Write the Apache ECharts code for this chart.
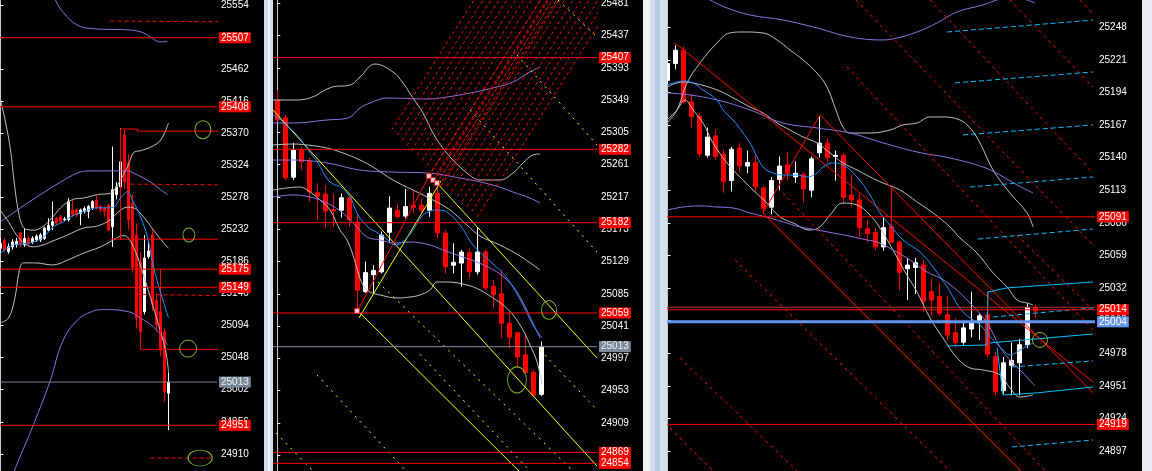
<!DOCTYPE html>
<html><head><meta charset="utf-8">
<script src="https://cdn.jsdelivr.net/npm/echarts@6.0.0/dist/echarts.min.js"></script>
<style>html,body{margin:0;padding:0;background:#000;overflow:hidden}#c{width:1152px;height:471px}</style>
</head><body><div id="c"></div>
<script>
// ================= PANEL 1 =================
const P1_TICKS = [25554,25508,25462,25416,25370,25324,25278,25232,25186,25140,25094,25048,25002,24956,24910];
// [open, close, low, high]
const P1_CANDLES = [
[25205,25212,25198,25219],[25216,25203,25200,25220],[25200,25207,25197,25212],[25207,25214,25203,25218],
[25210,25215,25206,25220],[25227,25210,25207,25229],[25210,25219,25207,25234],[25219,25212,25209,25222],
[25214,25219,25211,25222],[25217,25222,25214,25225],[25217,25224,25214,25227],[25219,25234,25217,25236],
[25231,25238,25229,25248],[25238,25243,25231,25272],[25248,25241,25238,25250],[25250,25243,25241,25253],
[25246,25247,25244,25250],[25246,25272,25243,25277],[25260,25253,25250,25274],[25260,25253,25250,25262],
[25255,25260,25238,25262],[25258,25262,25255,25265],[25258,25265,25248,25267],[25263,25272,25260,25274],
[25274,25263,25260,25281],[25265,25260,25257,25267],[25262,25258,25250,25265],[25267,25231,25231,25269],
[25236,25289,25207,25351],[25282,25293,25275,25300],[25293,25329,25290,25377],[25368,25300,25290,25375],
[25327,25246,25231,25340],[25270,25177,25170,25282],[25224,25105,25090,25240],[25185,25085,25075,25200],
[25114,25191,25110,25224],[25193,25201,25190,25215],[25224,25124,25115,25232],[25130,25095,25085,25140],
[25114,25059,25050,25120],[25085,24999,24985,25090],[24997,25013,24944,25027]
];
const P1_LEVELS = [25507,25408,25175,25149,24951];
const P1_LAST = 25013;
const P1_BB_UP = [[0,25418],[1.25,25386],[2.5,25346],[3.5,25296],[4.5,25257],[5.5,25237],[6.5,25232],[8.25,25231],[10,25234],[12.5,25246],[15,25263],[16.75,25271],[18.75,25276],[20.75,25277],[24.25,25282],[27.5,25284],[28.5,25289],[30,25303],[32,25325],[33.25,25342],[35,25345],[37.5,25350],[40,25360],[42,25385]];
const P1_BB_MID = [[0,25259],[2,25243],[4,25224],[6,25212],[8.25,25207],[10.75,25210],[12.5,25214],[16.75,25224],[20.75,25234],[24.25,25237],[27.5,25246],[29.25,25256],[31.75,25264],[33.25,25263],[35.75,25250],[38.25,25231],[40.75,25213],[42,25205]];
const P1_BB_LOW = [[0,25098],[2,25105],[3.5,25131],[4.75,25174],[5.75,25184],[8.75,25184],[13,25181],[16.75,25188],[20.75,25198],[25,25207],[28.25,25217],[30.5,25223],[31.75,25221],[33.75,25200],[35.5,25171],[37.5,25134],[39.5,25095],[41.25,25059],[42,25028]];
const P1_PUR_UP = [[12,25590],[13.75,25561],[15.75,25543],[19.25,25525],[23.25,25520],[32.5,25518],[35.75,25514],[38.25,25505],[40,25501],[41.75,25502]];
const P1_PUR_MID = [[0,25243],[5,25263],[10,25282],[15,25300],[19.25,25313],[21.75,25316],[31.75,25316],[33.25,25313],[37.5,25300],[40,25289],[41.75,25282]];
const P1_PUR_LOW = [[3.25,24880],[3.75,24890],[8.25,24952],[12.5,25016],[15.5,25071],[19.25,25102],[23.25,25115],[25.75,25117],[32,25114],[35,25105],[38.25,25092],[40.75,25076],[41.75,25066]];
const P1_MA = [[0,25198],[1.75,25205],[3.25,25210],[5,25211],[8.25,25214],[10.75,25221],[13.25,25236],[15.75,25243],[17.5,25250],[20,25256],[21.75,25260],[24.25,25263],[26.75,25263],[28.25,25264],[30,25277],[31.75,25286],[33,25274],[35,25250],[36.75,25221],[38.25,25178],[40,25142],[42,25105]];
const P1_RED_SOLID = [
  [[30,25217],[30,25376],[34.25,25376],[34.25,25373],[54.5,25373]],
  [[27.5,25218],[54.5,25218]],
  [[35,25175],[35,25060],[54.5,25060]],
  [[40,25175],[40,25060]]
];
const P1_RED_DASH = [
  [[27.5,25531],[54.5,25530]],
  [[32.5,25297],[54.5,25296]],
  [[33.75,25139],[54.5,25137]],
  [[37.5,24904],[53,24904]]
];
const P1_MARKS = [[50.6,25375],[47.1,25224],[46.9,25061],[49.9,24904]];

// ================= PANEL 2 =================
const P2_TICKS = [25481,25437,25393,25349,25305,25261,25217,25173,25129,25085,25041,24997,24953,24909,24865];
const P2_CANDLES = [
[25349,25322,25320,25363],[25325,25243,25240,25329],[25244,25281,25240,25291],[25281,25265,25254,25285],
[25266,25224,25211,25270],[25223,25218,25186,25236],[25221,25198,25175,25233],[25200,25198,25176,25222],
[25199,25216,25189,25222],[25216,25186,25176,25218],[25183,25090,25063,25195],[25088,25114,25086,25129],
[25111,25117,25086,25124],[25115,25165,25113,25170],[25169,25202,25154,25218],[25199,25190,25188,25208],
[25191,25204,25188,25228],[25206,25203,25195,25227],[25206,25199,25195,25215],[25199,25222,25190,25231],
[25222,25168,25160,25238],[25168,25122,25113,25172],[25124,25128,25113,25154],[25127,25142,25095,25145],
[25141,25115,25107,25147],[25115,25142,25111,25176],[25142,25093,25090,25145],[25095,25084,25065,25104],
[25085,25045,25025,25118],[25045,25026,25011,25059],[25032,24999,24985,25033],[25002,24978,24977,25032],
[24978,24947,24945,24981],[24948,25013,24946,25020]
];
const P2_LEVELS = [25407,25282,25182,25059,24869,24854];
const P2_LAST = 25013;
const P2_BB_UP = [[-0.54,25349.2],[1.96,25349.2],[4.09,25351.9],[6.84,25366.9],[9.09,25369.6],[10.34,25380.6],[12.21,25398.3],[14.46,25387.4],[15.71,25372.4],[16.96,25351.9],[18.21,25331.5],[19.46,25304.2],[20.59,25285.1],[21.96,25267.4],[23.71,25249.7],[25.34,25240.2],[27.84,25240.2],[29.46,25249.7],[30.71,25263.3],[31.96,25274.3],[32.84,25275.6]];
const P2_BB_MID = [[-0.54,25287.9],[1.96,25289.2],[3.71,25287.9],[6.21,25283.8],[8.21,25277],[10.34,25267.4],[11.96,25257.9],[14.46,25240.2],[16.96,25226.5],[19.46,25212.9],[21.59,25199.3],[23.71,25178.8],[25.34,25163.8],[27.84,25151.5],[30.34,25136.6],[32.84,25117.5]];
const P2_BB_LOW = [[-0.54,25226.5],[1.21,25229.3],[2.84,25230.6],[4.09,25223.8],[5.34,25212.9],[6.59,25199.3],[7.84,25172],[8.71,25158.4],[9.46,25137.9],[10.09,25114.8],[10.71,25097.1],[11.59,25087.5],[12.84,25083.5],[14.96,25079.4],[16.59,25080.7],[17.84,25083.5],[19.09,25090.3],[19.96,25101.2],[21.21,25101.2],[23.71,25097.1],[25.34,25090.3],[26.96,25079.4],[28.21,25069.9],[29.46,25056.3],[30.71,25035.8],[31.59,25015.4],[32.46,24992.6],[33.09,24961.3]];
const P2_PUR_UP = [[-0.54,25317.9],[1.96,25317.9],[6.21,25322],[8.84,25324.7],[10.34,25338.3],[11.59,25345.1],[13.71,25351.9],[18.71,25350.6],[21.21,25353.3],[24.09,25358.8],[26.96,25365.6],[29.46,25373.8],[31.59,25387.4],[32.84,25394.2]];
const P2_PUR_MID = [[-0.54,25267.4],[1.96,25267.4],[6.21,25263.3],[10.34,25253.8],[14.46,25251],[18.71,25249.7],[22.84,25242.9],[26.96,25233.3],[29.46,25223.8],[31.59,25215.6],[32.84,25208.8]];
const P2_PUR_LOW = [[-0.54,25217],[1.96,25219.8],[4.09,25217],[6.21,25208.8],[8.21,25195.2],[9.96,25176.1],[11.21,25162.5],[12.84,25158.4],[14.71,25154.3],[16.59,25155.7],[19.09,25151.6],[20.71,25144.8],[23.21,25135.2],[25.34,25126.6],[27.46,25114.8],[29.09,25099.8],[30.34,25080.7],[31.59,25053.5],[32.84,25024.9]];
const P2_MA = [[-0.54,25328.8],[0.46,25322],[1.34,25312.4],[2.21,25304.2],[2.96,25294.7],[3.84,25281.1],[5.09,25263.3],[6.34,25240.2],[7.21,25233.4],[7.96,25230.6],[9.09,25217],[10.09,25192.5],[11.34,25176.1],[12.59,25167.9],[13.84,25158.4],[14.71,25151.6],[15.46,25154.3],[16.71,25167.9],[17.96,25189.7],[18.84,25196.5],[19.96,25199.3],[21.21,25196.5],[22.84,25178.8],[24.46,25151.6],[26.96,25125.7],[28.71,25106.6],[30.71,25069.8],[31.96,25042.6],[33.09,25024.9]];
const P2_YELLOW = [
  [[-0.54,25335.6],[39.96,24850.4]],
  [[19.96,25236.1],[39.96,24997.6]],
  [[9.96,25063.1],[30.96,24835.4]],
  [[10.21,25052.1],[20.46,25238.8]]
];
const P2_YELLOW_DOT = [
  [[24.09,25335.6],[39.96,25142.0]],
  [[35.09,25485.5],[39.96,25435.1]],
  [[29.96,25410.5],[39.96,25288.0]],
  [[12.59,25101.2],[36.96,24843.6]],
  [[4.96,24974.6],[16.09,24843.6]],
  [[-0.16,24895.5],[4.46,24843.6]],
  [[32.84,25008.5],[39.96,24926.8]],
  [[17.84,25002.6],[31.59,24843.6]]
];
const P2_RED_RISE = [[10.09,25063.1],[18.96,25245.6]];
const P2_FAN = [
  [[14.3,25308.3],[24.6,25485.5]],[[15.0,25301.4],[25.7,25485.5]],[[15.6,25294.4],[26.7,25485.5]],
  [[16.2,25287.5],[27.7,25485.5]],[[16.8,25280.5],[28.7,25485.5]],[[17.5,25273.6],[29.8,25485.5]],
  [[18.1,25266.6],[30.8,25485.5]],[[18.7,25259.7],[31.8,25485.5]],[[19.3,25252.7],[32.9,25485.5]],
  [[20.0,25245.8],[33.9,25485.5]],[[20.6,25238.8],[34.9,25485.5]],[[21.2,25231.9],[35.9,25485.5]],
  [[21.8,25224.9],[37.0,25485.5]],[[22.5,25218.0],[38.0,25485.5]],[[23.1,25211.0],[39.0,25485.5]],
  [[23.7,25204.1],[40.1,25485.5]],[[24.3,25197.1],[41.1,25485.5]],[[25.0,25190.2],[42.1,25485.5]]
];
const P2_FAN_CORE = [
  [[18.96,25245.6],[32.9,25485.5]],[[19.46,25240.2],[33.7,25485.5]],
  [[19.96,25236.1],[34.4,25485.5]],[[20.46,25232.0],[35.2,25485.5]]
];
const P2_PIVOTS = [[9.96,25061.8],[18.96,25245.6],[19.46,25240.2],[19.96,25236.1]];
const P2_MARKS = [[33.96,25063],[29.96,24967.8]];

// ================= PANEL 3 =================
const P3_TICKS = [25248,25221,25194,25167,25140,25113,25086,25059,25032,25005,24978,24951,24924,24897];
const P3_CANDLES = [
[25204,25218,25200,25222],[25218,25229,25213,25233],[25229,25186,25185,25232],[25186,25174,25165,25193],
[25174,25143,25141,25177],[25142,25157,25140,25165],[25158,25141,25138,25163],[25143,25120,25111,25147],
[25121,25147,25112,25149],[25148,25133,25128,25152],[25133,25136,25127,25146],[25136,25116,25112,25142],
[25115,25098,25094,25116],[25099,25121,25093,25124],[25122,25133,25113,25141],[25134,25127,25121,25145],
[25124,25127,25119,25137],[25126,25114,25103,25128],[25113,25139,25107,25141],[25144,25152,25140,25174],
[25152,25140,25136,25156],[25141,25142,25121,25146],[25142,25107,25102,25144],[25109,25105,25100,25126],
[25105,25082,25074,25110],[25081,25077,25070,25088],[25078,25066,25063,25082],[25066,25082,25063,25091],
[25083,25070,25069,25115],[25070,25045,25030,25071],[25048,25051,25022,25057],[25049,25053,25027,25057],
[25051,25021,25012,25055],[25029,25022,25009,25040],[25025,25011,25009,25036],[25010,24993,24989,25025],
[24995,24987,24983,25007],[24987,24999,24985,25003],[24998,25003,24991,25029],[25004,25009,24989,25011],
[25010,24977,24975,25029],[24975,24946,24943,24979],[24947,24970,24944,24975],[24968,24972,24943,24987],
[24970,24985,24943,24990],[24985,25016,24982,25019],[25016,25013,25007,25018]
];
const P3_LEVELS = [25091,25014,24919];
const P3_BLUE_LEVEL = 25004;
const P3_DARK_LEVEL = 25016;
const P3_BB_UP = [[-0.06,25168.7],[1.19,25179.5],[2.44,25201.9],[4.06,25218.4],[6.19,25235],[7.81,25243.3],[9.44,25244.1],[11.94,25243.3],[13.69,25237.5],[15.31,25229.2],[16.94,25220.9],[18.69,25210.1],[19.94,25198.5],[21.19,25177],[21.94,25165.4],[22.81,25160.4],[25.31,25160.4],[27.81,25162.9],[29.44,25167.1],[31.19,25168.7],[32.81,25173.7],[34.44,25173.7],[36.56,25171.2],[37.81,25164.6],[39.06,25152.2],[40.69,25129.8],[42.81,25110.7],[44.94,25094.2],[45.69,25082.6]];
const P3_BB_MID = [[-0.06,25198.5],[1.94,25202.7],[3.19,25201.9],[6.19,25196.1],[8.69,25187.8],[10.31,25182],[11.94,25177],[13.69,25168.7],[15.31,25162.9],[16.94,25157.1],[18.69,25152.2],[20.31,25143.9],[21.94,25135.6],[23.69,25129.8],[25.31,25124],[26.94,25119],[29.06,25113.2],[31.19,25103.3],[33.19,25094.2],[35.31,25082.6],[36.56,25073.5],[38.69,25061],[40.69,25044.5],[42.44,25032.9],[43.69,25022.1],[44.94,25019.6],[45.69,25018]];
const P3_BB_LOW = [[-0.06,25171.2],[1.19,25179.5],[2.19,25187.8],[3.19,25179.5],[4.44,25168.7],[5.69,25152.2],[7.44,25135.6],[9.06,25124],[10.69,25113.2],[12.44,25102.4],[14.06,25090.9],[15.69,25085.9],[17.81,25080.1],[19.06,25082.6],[20.31,25092.5],[21.94,25102.4],[23.69,25100.8],[25.31,25092.5],[26.56,25081.7],[28.19,25063.5],[29.69,25045.3],[31.19,25028.7],[32.81,25007.2],[34.44,24990.6],[36.19,24974.1],[37.81,24965.8],[39.44,24964.1],[41.56,24960],[42.81,24949.2],[44.06,24941.7],[45.69,24943.4]];
const P3_PUR_UP = [[4.06,25274.8],[5.31,25270.6],[7.44,25264],[10.31,25258.2],[14.44,25254],[18.69,25247.4],[22.81,25240],[26.94,25237.5],[28.69,25239.1],[31.19,25244.1],[33.69,25251.6],[36.19,25260.7],[39.44,25266.5],[41.56,25271.4],[43.44,25273.1],[44.94,25270.6],[45.94,25268.1]];
const P3_PUR_MID = [[-0.06,25193.6],[2.81,25191.9],[6.19,25187.8],[10.31,25179.5],[14.44,25168.7],[18.69,25164.6],[22.81,25160.4],[26.94,25152.2],[31.19,25144.7],[35.31,25139.7],[39.44,25132.3],[41.56,25125.6],[43.69,25117.4],[45.69,25110.7]];
const P3_PUR_LOW = [[-0.06,25096.6],[1.94,25099.1],[4.06,25100],[6.19,25099.1],[8.19,25098.3],[10.31,25094.2],[12.44,25090.6],[14.44,25086.8],[16.56,25082.6],[18.69,25080.1],[20.69,25077.6],[22.81,25074.9],[24.94,25071.8],[26.19,25070.1],[28.19,25063.5],[30.31,25055.2],[32.44,25045.3],[34.06,25040.3],[35.69,25032.9],[37.81,25019.6],[39.94,25003],[41.56,24983.2],[42.81,24972.4],[44.44,24961.6],[45.94,24950.8]];
const P3_MA = [[-0.06,25200.2],[1.19,25202.7],[1.94,25203.5],[3.19,25201.9],[4.44,25196.1],[6.19,25187.8],[6.94,25179.5],[8.19,25171.2],[9.44,25160.4],[10.31,25152.2],[11.19,25140.6],[11.94,25132.3],[12.81,25128.2],[14.44,25125.6],[16.19,25125.6],[17.44,25124],[18.69,25127.3],[19.44,25132.3],[20.69,25135.6],[21.94,25133.9],[23.69,25124],[25.31,25109.1],[26.56,25094.2],[27.81,25084.2],[29.44,25071.8],[31.56,25061.9],[33.19,25049.4],[34.94,25032.9],[36.94,25012.2],[39.06,25001.4],[40.69,24989],[41.94,24980.7],[42.81,24976.5],[44.06,24980.7],[45.69,24986.5]];
const P3_RED_SOLID = [
  [[0.94,25235.0],[53.19,24954.2]],
  [[11.94,25094.2],[45.31,24873.0]],
  [[11.94,25094.2],[19.06,25175.3]],
  [[19.06,25175.3],[53.19,24945.1]]
];
const P3_RED_DASH = [
  [[22.44,25215.1],[53.19,24997.2]],
  [[23.56,25270.6],[53.19,25067.7]],
  [[32.81,25270.6],[53.19,25127.3]],
  [[42.81,25270.6],[53.19,25198.5]],
  [[51.56,25270.6],[53.19,25259.0]],
  [[8.44,25055.2],[35.94,24876.3]],
  [[1.56,24974.1],[16.81,24876.3]],
  [[0.31,24916.1],[6.31,24876.3]],
  [[43.69,25075.9],[53.19,25013.8]],
  [[14.44,25110.7],[47.81,24876.3]]
];
const P3_CYAN_SOLID = [
  [[34.94,24984.0],[39.94,24984.8],[40.06,25028.7],[42.44,25032.1],[53.19,25037.0]],
  [[40.31,24986.5],[53.19,24993.9]],
  [[41.19,24982.3],[41.94,24943.4],[46.19,24945.1],[53.19,24950.0]]
];
const P3_CYAN_DASH = [
  [[34.94,25244.1],[53.19,25254.0]],[[35.94,25201.9],[53.19,25211.0]],[[36.94,25158.8],[53.19,25167.1]],
  [[37.81,25115.7],[53.19,25124.0]],[[38.81,25072.6],[53.19,25080.9]],[[40.69,25008.0],[53.19,25015.5]],
  [[43.06,24966.6],[53.19,24971.6]],[[43.06,24900.3],[53.19,24906.1]]
];
const P3_MARKS = [[46.56,24989]];

// ================= LAYOUT / STYLE =================
const LAYOUT = [
  {left:0,   width:217, cLeft:-1.5,  cWidth:220, n:55, xMin:-0.125,  xMax:54.125,  yMin:24885.4, yMax:25561.2, barW:2, ticks:P1_TICKS},
  {left:273, width:324, cLeft:273.3, cWidth:328, n:41, xMin:-0.5375, xMax:39.9625, yMin:24843.6, yMax:25485.5, barW:4, ticks:P2_TICKS},
  {left:667, width:428, cLeft:663.5, cWidth:432, n:54, xMin:-0.0625, xMax:53.4375, yMin:24880.4, yMax:25270.6, barW:4, ticks:P3_TICKS}
];
const FONT = 'Liberation Sans';
const GREEN = '#9be22d', SILVER = '#c0c0c0', PURPLE = '#9370db', BLUE = '#1e90ff', RED = '#ff0000', YEL = '#ffff00', CYAN = '#00bfff';

const grid = [], xAxis = [], yAxis = [], series = [];
LAYOUT.forEach((L, p) => {
  grid.push({left:L.left, top:0, width:L.width, height:471, outerBoundsMode:'none'});
  grid.push({left:L.cLeft, top:0, width:L.cWidth, height:471, outerBoundsMode:'none'});
  xAxis.push({type:'value', gridIndex:2*p, min:L.xMin, max:L.xMax, show:false});
  xAxis.push({type:'category', gridIndex:2*p+1, data:Array.from({length:L.n}, (_, i) => String(i)), show:false, boundaryGap:true});
  yAxis.push({type:'value', gridIndex:2*p, position:'right', min:L.yMin, max:L.yMax,
    axisLine:{show:true, lineStyle:{color:'#c8c8c8', width:1}},
    axisTick:{show:true, inside:false, length:3, customValues:L.ticks, lineStyle:{color:'#ffffff'}},
    axisLabel:{show:true, customValues:L.ticks, color:'#ffffff', fontSize:10, fontFamily:FONT, margin:4,
      formatter: v => String(Math.round(v))},
    splitLine:{show:false}});
  yAxis.push({type:'value', gridIndex:2*p+1, min:L.yMin, max:L.yMax, show:false});
});

function line(p, data, color, opt) {
  opt = opt || {};
  const s = {type:'line', xAxisIndex:2*p, yAxisIndex:2*p, data, symbol:'none', silent:true, animation:false,
    smooth: opt.smooth || false, z: opt.z || 3,
    lineStyle:{color, width: opt.width || 1, type: opt.type || 'solid'}};
  if (opt.endLabel) s.endLabel = opt.endLabel;
  series.push(s);
}
function candles(p, data) {
  series.push({type:'candlestick', xAxisIndex:2*p+1, yAxisIndex:2*p+1, data, barWidth:LAYOUT[p].barW, silent:true, animation:false, z:2,
    itemStyle:{color:'#ffffff', color0:RED, borderColor:'#ffffff', borderColor0:RED, borderWidth:1}});
}
// horizontal price level drawn across the panel, with its boxed price on the axis
function level(p, v, color, bg, width, txt, noLabel) {
  const L = LAYOUT[p];
  line(p, [[L.xMin, v], [L.xMax, v]], color, {width: width || 1, z: 4,
    endLabel: noLabel ? {show:false} : {show:true, distance:2, formatter:String(v), backgroundColor:bg, color:txt || '#ffffff',
      fontSize:10, fontFamily:FONT, padding:[1,2,0,2], lineHeight:10, align:'left', verticalAlign:'middle'}});
}
function ellipses(p, data, sizes) {
  data.forEach((d, i) => series.push({type:'scatter', xAxisIndex:2*p, yAxisIndex:2*p, data:[d], symbol:'circle', symbolSize:sizes[i],
    silent:true, animation:false, z:5, itemStyle:{color:'rgba(0,0,0,0)', borderColor:GREEN, borderWidth:1}}));
}

// ---- Panel 1 series
candles(0, P1_CANDLES);
line(0, P1_BB_UP, SILVER, {smooth:0.4});
line(0, P1_BB_MID, SILVER, {smooth:0.4});
line(0, P1_BB_LOW, SILVER, {smooth:0.4});
line(0, P1_PUR_UP, PURPLE, {smooth:0.4});
line(0, P1_PUR_MID, PURPLE, {smooth:0.4});
line(0, P1_PUR_LOW, PURPLE, {smooth:0.4});
P1_RED_SOLID.forEach(d => line(0, d, RED));
P1_RED_DASH.forEach(d => line(0, d, RED, {type:[4,3]}));
line(0, P1_MA, BLUE, {smooth:0.4});
P1_LEVELS.forEach(v => level(0, v, RED, RED));
level(0, P1_LAST, '#708090', '#778899', 1, '#f0f0f0');
ellipses(0, P1_MARKS, [[16,18],[12,14],[17,17],[24,16]]);

// ---- Panel 2 series
candles(1, P2_CANDLES);
line(1, P2_BB_UP, SILVER, {smooth:0.4});
line(1, P2_BB_MID, SILVER, {smooth:0.4});
line(1, P2_BB_LOW, SILVER, {smooth:0.4});
line(1, P2_PUR_UP, PURPLE, {smooth:0.4});
line(1, P2_PUR_MID, PURPLE, {smooth:0.4});
line(1, P2_PUR_LOW, PURPLE, {smooth:0.4});
P2_FAN.forEach(d => line(1, d, RED, {type:[3,3]}));
P2_FAN_CORE.forEach(d => line(1, d, RED, {type:[4,2]}));
P2_YELLOW_DOT.forEach(d => line(1, d, YEL, {type:[2,5]}));
P2_YELLOW.forEach(d => line(1, d, YEL));
line(1, P2_RED_RISE, RED);
line(1, P2_MA, BLUE, {smooth:0.4});
P2_LEVELS.forEach(v => level(1, v, RED, RED));
level(1, P2_LAST, '#8090a0', '#778899', 1, '#f0f0f0');
series.push({type:'scatter', xAxisIndex:2, yAxisIndex:2, data:P2_PIVOTS, symbol:'rect', symbolSize:5, silent:true, animation:false, z:6,
  itemStyle:{color:'#ffffff', borderColor:RED, borderWidth:1}});
ellipses(1, P2_MARKS, [[15,19],[19,26]]);

// ---- Panel 3 series
candles(2, P3_CANDLES);
line(2, P3_BB_UP, SILVER, {smooth:0.4});
line(2, P3_BB_MID, SILVER, {smooth:0.4});
line(2, P3_BB_LOW, SILVER, {smooth:0.4});
line(2, P3_PUR_UP, PURPLE, {smooth:0.4});
line(2, P3_PUR_MID, PURPLE, {smooth:0.4});
line(2, P3_PUR_LOW, PURPLE, {smooth:0.4});
P3_RED_DASH.forEach(d => line(2, d, RED, {type:[3,4]}));
P3_RED_SOLID.forEach(d => line(2, d, RED));
P3_CYAN_DASH.forEach(d => line(2, d, CYAN, {type:[5,3]}));
P3_CYAN_SOLID.forEach(d => line(2, d, CYAN));
line(2, P3_MA, BLUE, {smooth:0.4});
level(2, P3_DARK_LEVEL, '#b03030', RED, 1, '#fff', true);
P3_LEVELS.forEach(v => level(2, v, RED, RED));
level(2, P3_BLUE_LEVEL, '#6495ed', '#6495ed', 3);
ellipses(2, P3_MARKS, [[15,15]]);

const chart = echarts.init(document.getElementById('c'), null, {renderer:'canvas', width:1152, height:471});
chart.setOption({
  backgroundColor:'#000000',
  animation:false,
  grid, xAxis, yAxis, series,
  graphic:[
    {type:'rect', z:100, shape:{x:264, y:0, width:9, height:471}, style:{fill:'#d4dfeb'}},
    {type:'rect', z:101, shape:{x:268, y:0, width:2, height:471}, style:{fill:'#eef3f8'}},
    {type:'rect', z:100, shape:{x:643, y:0, width:24, height:471}, style:{fill:'#d4dfeb'}},
    {type:'rect', z:101, shape:{x:643, y:0, width:7, height:471}, style:{fill:'#f2f2f2'}},
    {type:'rect', z:101, shape:{x:655, y:0, width:5, height:471}, style:{fill:'#b7cbe2'}},
    {type:'rect', z:100, shape:{x:1142, y:0, width:10, height:471}, style:{fill:'#e8ecf2'}}
  ]
});
</script></body></html>
